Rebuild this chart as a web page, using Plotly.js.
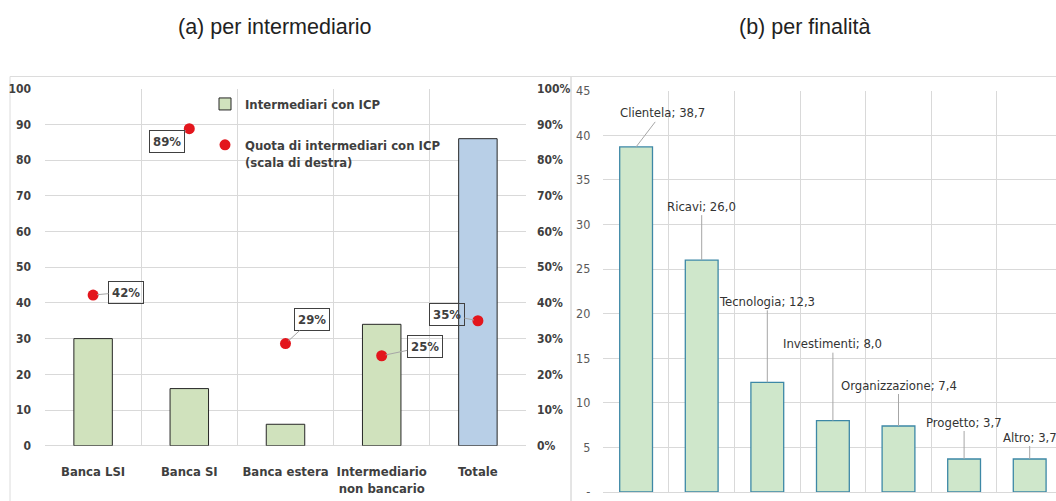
<!DOCTYPE html>
<html>
<head>
<meta charset="utf-8">
<script src="https://cdn.plot.ly/plotly-3.0.1.min.js"></script>
<style>
html,body{margin:0;padding:0;background:#fff;}
#chart{width:1056px;height:501px;}
</style>
</head>
<body>
<div id="chart"></div>
<script>
// ---- Data: panel (a) per intermediario ----
var categoriesA = ['Banca LSI', 'Banca SI', 'Banca estera', 'Intermediario<br>non bancario', 'Totale'];
var intermediariICP = [30, 16, 6, 34, 86];
var quotaICP = [42.2, 88.8, 28.6, 25.2, 35.0];   // percent, right-hand scale

// ---- Data: panel (b) per finalita ----
var categoriesB = ['Clientela', 'Ricavi', 'Tecnologia', 'Investimenti', 'Organizzazione', 'Progetto', 'Altro'];
var valuesB = [38.7, 26.0, 12.3, 8.0, 7.4, 3.7, 3.7];

// ---- Tick labels ----
var leftTicks = [0, 10, 20, 30, 40, 50, 60, 70, 80, 90, 100];
var pctTicks = [0, 10, 20, 30, 40, 50, 60, 70, 80, 90, 100];
var pctTickText = ['0%', '10%', '20%', '30%', '40%', '50%', '60%', '70%', '80%', '90%', '100%'];
var rightTicks = [0, 5, 10, 15, 20, 25, 30, 35, 40, 45];
var rightTickText = ['-', '5', '10', '15', '20', '25', '30', '35', '40', '45'];

var W = 1056, H = 501;
function px(x) { return x / W; }
function py(y) { return (H - y) / H; }

var NARROW = '"DejaVu Sans Condensed", "Liberation Sans Narrow", "Arial Narrow", sans-serif';
var SANS = '"Liberation Sans", Arial, Helvetica, sans-serif';
var DARK = '#3f3f3f';
var GRID = '#d9d9d9';

var greenA = '#d0e2bd', blueA = '#b8cfe7';
var barColorsA = categoriesA.map(function (c, i) { return i === categoriesA.length - 1 ? blueA : greenA; });

var traces = [
  {
    type: 'bar', name: 'Intermediari con ICP',
    x: categoriesA, y: intermediariICP,
    xaxis: 'x', yaxis: 'y',
    width: 0.4,
    marker: { color: barColorsA, line: { color: '#262626', width: 1 } },
    legendgroup: 'g1'
  },
  {
    type: 'scatter', mode: 'markers', name: 'Quota di intermediari con ICP<br>(scala di destra)',
    x: categoriesA, y: quotaICP,
    xaxis: 'x', yaxis: 'y2',
    marker: { color: '#e3161d', size: 11 },
    legendgroup: 'g2'
  },
  {
    type: 'bar', name: 'per finalità', showlegend: false,
    x: categoriesB, y: valuesB,
    xaxis: 'x2', yaxis: 'y3',
    width: 0.5,
    marker: { color: '#cfe7cb', line: { color: '#3d88a6', width: 1.3 } }
  }
];

// annotation offsets (pixels) for the boxed percentage labels in panel (a)
var offA = [[33, -3], [-22, 13], [26, -24], [43, -9], [-31, -6]];
// annotation offsets for panel (b) labels
var offB = [[26, -34], [0, -54], [0, -81], [0, -77], [0, -41], [0, -37], [0, -22]];

var annotations = [];
annotations.push({
  xref: 'paper', yref: 'paper', x: px(274.5), y: py(27), text: '(a) per intermediario',
  showarrow: false, xanchor: 'center', yanchor: 'middle',
  font: { family: SANS, size: 21.5, color: '#222' }
});
annotations.push({
  xref: 'paper', yref: 'paper', x: px(804), y: py(27), text: '(b) per finalità',
  showarrow: false, xanchor: 'center', yanchor: 'middle',
  font: { family: SANS, size: 21.5, color: '#222' }
});

quotaICP.forEach(function (v, i) {
  annotations.push({
    xref: 'x', yref: 'y2', x: categoriesA[i], y: v,
    text: '<b>' + Math.round(v) + '%</b>',
    showarrow: true, arrowhead: 0, arrowwidth: 1, arrowcolor: '#a6a6a6',
    ax: offA[i][0], ay: offA[i][1], standoff: 4,
    bordercolor: '#404040', borderwidth: 1, borderpad: 3,
    font: { family: NARROW, size: 13, color: DARK }
  });
});

valuesB.forEach(function (v, i) {
  annotations.push({
    xref: 'x2', yref: 'y3', x: categoriesB[i], y: v,
    text: categoriesB[i] + '; ' + v.toFixed(1).replace('.', ','),
    showarrow: true, arrowhead: 0, arrowwidth: 1, arrowcolor: '#a6a6a6',
    ax: offB[i][0], ay: offB[i][1], standoff: 0,
    font: { family: NARROW, size: 13, color: '#333333' }
  });
});

var shapes = [
  { type: 'rect', xref: 'paper', yref: 'paper', x0: px(10), x1: px(571), y0: -0.1, y1: py(76.5),
    line: { color: '#dcdcdc', width: 1 }, fillcolor: 'rgba(0,0,0,0)', layer: 'below' },
  { type: 'rect', xref: 'paper', yref: 'paper', x0: px(571), x1: 1.05, y0: -0.1, y1: py(76.5),
    line: { color: '#dcdcdc', width: 1 }, fillcolor: 'rgba(0,0,0,0)', layer: 'below' }
];

var layout = {
  width: W, height: H,
  margin: { l: 0, r: 0, t: 0, b: 0 },
  paper_bgcolor: '#fff', plot_bgcolor: 'rgba(0,0,0,0)',
  font: { family: NARROW, color: DARK },
  showlegend: true,
  legend: {
    x: px(205), y: py(89), xanchor: 'left', yanchor: 'top', valign: 'top',
    bgcolor: 'rgba(0,0,0,0)', traceorder: 'grouped', tracegroupgap: 21,
    font: { family: NARROW, size: 13, color: DARK, weight: 'bold' }
  },
  xaxis: {
    domain: [px(45), px(526)], anchor: 'y', type: 'category',
    range: [-0.5, 4.5], tickson: 'boundaries', tickangle: 0,
    showgrid: true, gridcolor: GRID, gridwidth: 1,
    ticks: '', showline: false, zeroline: false,
    tickfont: { family: NARROW, size: 13, color: DARK, weight: 'bold' },
    ticklabelstandoff: 16, fixedrange: true
  },
  yaxis: {
    domain: [py(445.7), py(88.7)], anchor: 'x', range: [0, 100],
    tickvals: leftTicks, ticktext: leftTicks.map(String),
    showgrid: true, gridcolor: GRID, gridwidth: 1, zeroline: true, zerolinecolor: GRID,
    ticks: '', showline: false,
    tickfont: { family: NARROW, size: 12, color: DARK, weight: 'bold' },
    ticklabelstandoff: 13, fixedrange: true
  },
  yaxis2: {
    overlaying: 'y', side: 'right', anchor: 'x', range: [0, 100],
    tickvals: pctTicks, ticktext: pctTickText,
    showgrid: false, zeroline: false, ticks: '', showline: false,
    tickfont: { family: NARROW, size: 12, color: DARK, weight: 'bold' },
    ticklabelstandoff: 10, fixedrange: true
  },
  xaxis2: {
    domain: [px(603.3), 1], anchor: 'y3', type: 'category',
    range: [-0.5, 6.401], tickson: 'boundaries',
    showgrid: true, gridcolor: GRID, gridwidth: 1,
    showticklabels: false, ticks: '', showline: false, zeroline: false, fixedrange: true
  },
  yaxis3: {
    domain: [py(492), py(90.7)], anchor: 'x2', range: [0, 45],
    tickvals: rightTicks, ticktext: rightTickText,
    showgrid: true, gridcolor: GRID, gridwidth: 1, zeroline: true, zerolinecolor: GRID,
    ticks: '', showline: false,
    tickfont: { family: NARROW, size: 12.5, color: '#595959' },
    ticklabelstandoff: 12, fixedrange: true
  },
  annotations: annotations,
  shapes: shapes
};

Plotly.newPlot('chart', traces, layout, { displayModeBar: false, staticPlot: true });
</script>
</body>
</html>
